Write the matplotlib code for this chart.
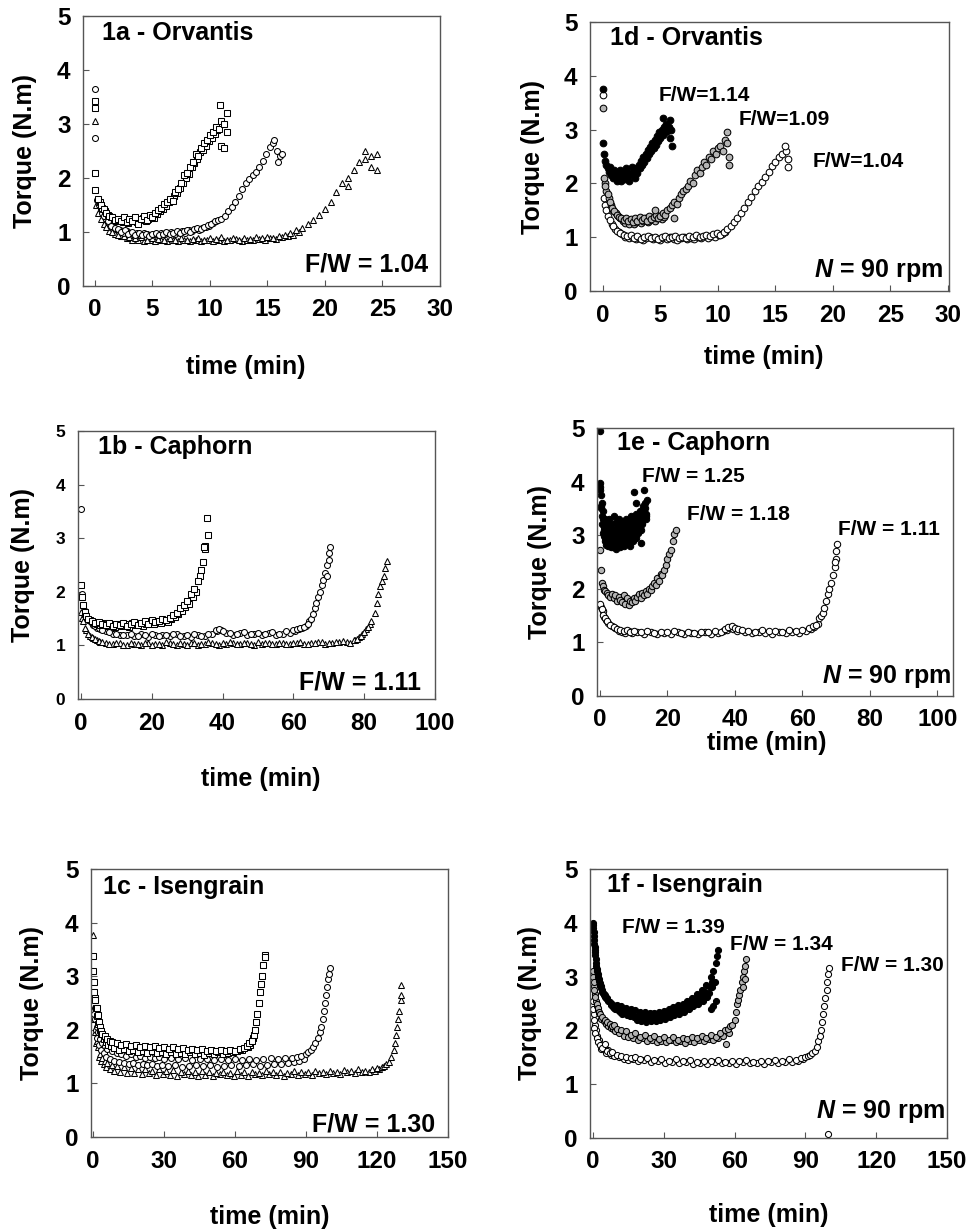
import matplotlib
matplotlib.use('Agg')
import matplotlib.pyplot as plt

plt.rcParams['font.family'] = ['Liberation Sans', 'DejaVu Sans']
plt.rcParams['font.weight'] = 'bold'
plt.rcParams['mathtext.fontset'] = 'custom'
plt.rcParams['mathtext.it'] = 'Liberation Sans:bold:italic'
plt.rcParams['mathtext.rm'] = 'Liberation Sans:bold'

# ---- 1a Orvantis, F/W = 1.04 (squares / circles / triangles, two replicates each shown)
a_sq_t = [0.0, 0.0, 0.0, 0.0, 0.25, 0.5, 0.75, 1.0, 1.25, 1.5, 1.75, 2.0, 2.25, 2.5, 2.75, 3.0, 3.25, 3.5, 3.75, 4.0,
          4.25, 4.5, 4.75, 5.0, 5.25, 5.5, 5.75, 6.0, 6.25, 6.5, 6.75, 7.0, 7.25, 7.5, 7.75, 8.0, 8.25, 8.5, 8.75, 9.0,
          9.25, 9.5, 9.75, 10.0, 10.25, 10.5, 10.75, 11.0, 11.0, 11.25, 11.25, 11.5, 11.5, 10.9]
a_sq_y = [3.42, 3.3, 2.1, 1.78, 1.62, 1.5, 1.42, 1.35, 1.3, 1.28, 1.22, 1.25, 1.2, 1.27, 1.18, 1.24, 1.2, 1.28, 1.15, 1.25,
          1.3, 1.22, 1.32, 1.28, 1.35, 1.4, 1.45, 1.52, 1.55, 1.62, 1.58, 1.75, 1.8, 1.9, 2.05, 2.1, 2.2, 2.3, 2.45, 2.4,
          2.55, 2.65, 2.7, 2.8, 2.85, 2.95, 2.9, 3.05, 2.6, 2.55, 3.0, 2.85, 3.2, 3.35]
a_sq2_t = [0.4, 0.65, 0.9, 1.15, 1.4, 1.65, 1.9, 2.15, 2.4, 2.65, 2.9, 3.15, 3.4, 3.65, 3.9, 4.15, 4.4, 4.65, 4.9, 5.15,
           5.4, 5.65, 5.9, 6.15, 6.4, 6.65, 6.9, 7.15, 7.4, 7.65, 7.9, 8.15, 8.4, 8.65, 8.9, 9.15, 9.4, 9.65, 9.9, 10.15,
           10.4, 10.65]
a_sq2_y = [1.55, 1.45, 1.38, 1.32, 1.27, 1.24, 1.2, 1.23, 1.18, 1.22, 1.16, 1.2, 1.25, 1.19, 1.22, 1.26, 1.2, 1.24, 1.3, 1.26,
           1.33, 1.38, 1.42, 1.48, 1.55, 1.6, 1.66, 1.72, 1.82, 1.9, 2.0, 2.08, 2.2, 2.28, 2.35, 2.48, 2.52, 2.6, 2.68, 2.75,
           2.82, 2.88]
a_ci_t = [0.0, 0.0, 0.2, 0.5, 0.8, 1.1, 1.4, 1.7, 2.0, 2.3, 2.6, 2.9, 3.2, 3.5, 3.8, 4.1, 4.4, 4.7, 5.0, 5.3,
          5.6, 5.9, 6.2, 6.5, 6.8, 7.1, 7.4, 7.7, 8.0, 8.3, 8.6, 8.9, 9.2, 9.5, 9.8, 10.1, 10.4, 10.7, 11.0, 11.3,
          11.6, 11.9, 12.2, 12.5, 12.8, 13.1, 13.4, 13.7, 14.0, 14.3, 14.6, 14.9, 15.2, 15.5, 15.8, 16.1, 16.3, 15.9, 15.6]
a_ci_y = [3.65, 2.75, 1.6, 1.42, 1.3, 1.2, 1.12, 1.08, 1.05, 1.0, 1.03, 0.97, 1.0, 0.95, 0.99, 0.94, 0.97, 0.93, 0.96, 0.98,
          0.94, 0.97, 1.0, 0.96, 0.99, 1.02, 0.98, 1.01, 1.04, 1.0, 1.05, 1.08, 1.06, 1.1, 1.13, 1.15, 1.2, 1.22, 1.25, 1.3,
          1.38, 1.46, 1.55, 1.66, 1.8, 1.9, 1.98, 2.05, 2.12, 2.2, 2.32, 2.45, 2.58, 2.65, 2.5, 2.4, 2.45, 2.3, 2.7]
a_ci2_t = [0.35, 0.65, 0.95, 1.25, 1.55, 1.85, 2.15, 2.45, 2.75, 3.05, 3.35, 3.65, 3.95, 4.25, 4.55, 4.85, 5.15, 5.45, 5.75,
           6.05, 6.35, 6.65, 6.95, 7.25, 7.55, 7.85, 8.15, 8.45, 8.75, 9.05, 9.35, 9.65, 9.95, 10.25, 10.55]
a_ci2_y = [1.5, 1.36, 1.25, 1.16, 1.1, 1.06, 1.03, 0.99, 1.01, 0.98, 0.96, 0.99, 0.95, 0.98, 0.96, 0.94, 0.97, 0.95, 0.99,
           0.96, 0.98, 1.0, 0.97, 1.0, 1.02, 0.99, 1.03, 1.01, 1.05, 1.03, 1.07, 1.09, 1.12, 1.16, 1.2]
a_tr_t = [0.0, 0.1, 0.5, 1.0, 1.5, 2.0, 2.5, 3.0, 3.5, 4.0, 4.5, 5.0, 5.5, 6.0, 6.5, 7.0, 7.5, 8.0, 8.5, 9.0,
          9.5, 10.0, 10.5, 11.0, 11.5, 12.0, 12.5, 13.0, 13.5, 14.0, 14.5, 15.0, 15.5, 16.0, 16.5, 17.0, 17.5, 18.0,
          18.5, 19.0, 19.5, 20.0, 20.5, 21.0, 21.5, 22.0, 22.5, 23.0, 23.5, 24.0, 24.0, 24.5, 24.5, 23.5, 22.0]
a_tr_y = [3.05, 1.5, 1.25, 1.1, 1.0, 0.95, 0.92, 0.9, 0.88, 0.9, 0.86, 0.89, 0.87, 0.85, 0.88, 0.86, 0.89, 0.85, 0.87, 0.88,
          0.86, 0.89, 0.87, 0.9, 0.86, 0.88, 0.85, 0.89, 0.87, 0.9, 0.88, 0.91, 0.89, 0.92, 0.95, 0.98, 1.03, 1.08,
          1.15, 1.22, 1.32, 1.42, 1.55, 1.75, 1.9, 2.0, 2.15, 2.3, 2.35, 2.4, 2.2, 2.45, 2.15, 2.5, 1.85]
a_tr2_t = [0.25, 0.75, 1.25, 1.75, 2.25, 2.75, 3.25, 3.75, 4.25, 4.75, 5.25, 5.75, 6.25, 6.75, 7.25, 7.75, 8.25, 8.75,
           9.25, 9.75, 10.25, 10.75, 11.25, 11.75, 12.25, 12.75, 13.25, 13.75, 14.25, 14.75, 15.25, 15.75, 16.25,
           16.75, 17.25, 17.75]
a_tr2_y = [1.35, 1.15, 1.02, 0.96, 0.92, 0.88, 0.86, 0.85, 0.84, 0.86, 0.83, 0.85, 0.84, 0.86, 0.83, 0.85, 0.84, 0.86,
           0.84, 0.85, 0.83, 0.86, 0.84, 0.85, 0.87, 0.84, 0.86, 0.85, 0.87, 0.86, 0.88, 0.87, 0.9,
           0.92, 0.95, 1.0]

# ---- 1d Orvantis, N = 90 rpm (F/W 1.14 black, 1.09 grey, 1.04 open)
d_blk_t = [0.0, 0.0, 0.1, 0.2, 0.3, 0.4, 0.5, 0.6, 0.7, 0.8, 0.9, 1.0, 1.1, 1.2, 1.3, 1.4, 1.5, 1.6, 1.7, 1.8,
           1.9, 2.0, 2.1, 2.2, 2.3, 2.4, 2.5, 2.6, 2.7, 2.8, 2.9, 3.0, 3.1, 3.2, 3.3, 3.4, 3.5, 3.6, 3.7, 3.8,
           3.9, 4.0, 4.1, 4.2, 4.3, 4.4, 4.5, 4.6, 4.7, 4.8, 4.9, 5.0, 5.1, 5.2, 5.3, 5.4, 5.5, 5.6, 5.7, 5.8,
           5.9, 6.0, 5.2, 5.8]
d_blk_y = [3.75, 2.75, 2.55, 2.42, 2.35, 2.28, 2.22, 2.3, 2.15, 2.2, 2.1, 2.25, 2.12, 2.05, 2.2, 2.1, 2.25, 2.05, 2.15, 2.2,
           2.08, 2.28, 2.12, 2.2, 2.05, 2.18, 2.3, 2.15, 2.25, 2.1, 2.28, 2.2, 2.35, 2.28, 2.42, 2.35, 2.5, 2.4, 2.55, 2.48,
           2.62, 2.55, 2.68, 2.6, 2.75, 2.65, 2.8, 2.72, 2.88, 2.78, 2.95, 2.85, 3.0, 2.9, 3.05, 2.95, 3.1, 2.98, 3.05, 2.85,
           3.0, 2.7, 3.22, 3.18]
d_gry_t = [0.0, 0.1, 0.2, 0.4, 0.6, 0.8, 1.0, 1.2, 1.4, 1.6, 1.8, 2.0, 2.2, 2.4, 2.6, 2.8, 3.0, 3.2, 3.4, 3.6,
           3.8, 4.0, 4.2, 4.4, 4.6, 4.8, 5.0, 5.2, 5.4, 5.6, 5.8, 6.0, 6.2, 6.4, 6.6, 6.8, 7.0, 7.2, 7.4, 7.6,
           7.8, 8.0, 8.2, 8.4, 8.6, 8.8, 9.0, 9.2, 9.4, 9.6, 9.8, 10.0, 10.2, 10.4, 10.6, 10.8, 11.0, 11.0, 10.8, 6.2, 4.5]
d_gry_y = [3.4, 2.1, 1.95, 1.8, 1.65, 1.55, 1.48, 1.42, 1.38, 1.35, 1.32, 1.36, 1.3, 1.34, 1.28, 1.35, 1.3, 1.38, 1.32, 1.36,
           1.3, 1.4, 1.34, 1.38, 1.42, 1.36, 1.4, 1.45, 1.42, 1.5, 1.55, 1.6, 1.65, 1.62, 1.72, 1.8, 1.85, 1.9, 1.95, 2.05,
           2.0, 2.15, 2.25, 2.2, 2.3, 2.4, 2.35, 2.5, 2.45, 2.6, 2.55, 2.65, 2.7, 2.6, 2.8, 2.75, 2.5, 2.35, 2.95, 1.35, 1.5]
d_gry2_t = [0.15, 0.3, 0.5, 0.7, 0.9, 1.1, 1.3, 1.5, 1.7, 1.9, 2.1, 2.3, 2.5, 2.7, 2.9, 3.1, 3.3, 3.5, 3.7, 3.9,
            4.1, 4.3, 4.5, 4.7, 4.9, 5.1, 5.3]
d_gry2_y = [2.0, 1.85, 1.72, 1.6, 1.5, 1.45, 1.4, 1.36, 1.3, 1.27, 1.32, 1.25, 1.3, 1.24, 1.28, 1.33, 1.26, 1.3, 1.35, 1.28,
            1.32, 1.37, 1.3, 1.35, 1.4, 1.33, 1.38]
d_opn_t = [0.0, 0.1, 0.3, 0.6, 0.9, 1.2, 1.5, 1.8, 2.1, 2.4, 2.7, 3.0, 3.3, 3.6, 3.9, 4.2, 4.5, 4.8, 5.1, 5.4,
           5.7, 6.0, 6.3, 6.6, 6.9, 7.2, 7.5, 7.8, 8.1, 8.4, 8.7, 9.0, 9.3, 9.6, 9.9, 10.2, 10.5, 10.8, 11.1, 11.4,
           11.7, 12.0, 12.3, 12.6, 12.9, 13.2, 13.5, 13.8, 14.1, 14.4, 14.7, 15.0, 15.3, 15.6, 15.9, 16.1, 16.1, 15.8]
d_opn_y = [3.65, 1.72, 1.5, 1.32, 1.2, 1.12, 1.08, 1.05, 1.02, 1.04, 0.99, 1.02, 0.97, 1.0, 1.03, 0.98, 1.01, 0.97, 1.0, 1.02,
           0.98, 1.0, 1.03, 0.99, 1.01, 0.98, 1.02, 1.0, 1.04, 1.0, 1.03, 1.05, 1.02, 1.06, 1.08, 1.05, 1.1, 1.15, 1.2, 1.28,
           1.36, 1.45, 1.55, 1.65, 1.75, 1.85, 1.95, 2.02, 2.12, 2.22, 2.32, 2.4, 2.5, 2.55, 2.6, 2.45, 2.3, 2.7]
d_opn2_t = [0.2, 0.45, 0.75, 1.05, 1.35, 1.65, 1.95, 2.25, 2.55, 2.85, 3.15, 3.45, 3.75, 4.05, 4.35, 4.65, 4.95, 5.25,
            5.55, 5.85, 6.15, 6.45, 6.75, 7.05, 7.35, 7.65, 7.95, 8.25, 8.55, 8.85, 9.15, 9.45, 9.75, 10.05, 10.35, 10.65]
d_opn2_y = [1.6, 1.4, 1.25, 1.15, 1.1, 1.06, 1.0, 0.98, 1.01, 0.96, 0.99, 0.95, 0.98, 1.0, 0.96, 0.99, 0.95, 0.98,
            0.96, 1.0, 0.97, 0.95, 0.98, 1.01, 0.97, 0.99, 0.96, 1.0, 0.98, 1.02, 0.99, 1.03, 1.01, 1.04, 1.06, 1.1]

# ---- 1b Caphorn, F/W = 1.11
b_sq_t = [0.0, 0.5, 1.0, 1.5, 2.0, 3.0, 4.0, 5.0, 6.0, 7.0, 8.0, 9.0, 10.0, 11.0, 12.0, 13.0, 14.0, 15.0, 16.0, 17.0,
          18.0, 19.0, 20.0, 21.0, 22.0, 23.0, 24.0, 25.0, 26.0, 27.0, 28.0, 29.0, 30.0, 31.0, 32.0, 33.0, 34.0,
          34.5, 35.0, 35.5, 36.0, 35.0, 34.8]
b_sq_y = [2.13, 1.75, 1.62, 1.55, 1.5, 1.45, 1.42, 1.44, 1.4, 1.38, 1.42, 1.36, 1.4, 1.38, 1.42, 1.37, 1.4, 1.43, 1.38, 1.42,
          1.45, 1.4, 1.48, 1.44, 1.46, 1.5, 1.48, 1.52, 1.56, 1.6, 1.7, 1.75, 1.82, 1.95, 2.05, 2.2, 2.4,
          2.55, 2.85, 3.38, 3.06, 2.8, 2.83]
b_sq2_t = [0.3, 1.2, 2.5, 3.5, 4.5, 5.5, 6.5, 7.5, 8.5, 9.5, 10.5, 11.5, 12.5, 13.5, 14.5, 15.5, 16.5, 17.5, 18.5, 19.5,
           20.5, 21.5, 22.5, 23.5, 24.5, 25.5, 26.5, 27.5, 28.5, 29.5, 30.5, 31.5, 32.5, 33.5]
b_sq2_y = [1.9, 1.58, 1.48, 1.43, 1.4, 1.38, 1.41, 1.36, 1.39, 1.35, 1.4, 1.37, 1.39, 1.35, 1.41, 1.38, 1.42, 1.37, 1.4, 1.43,
           1.39, 1.45, 1.42, 1.47, 1.44, 1.5, 1.53, 1.58, 1.65, 1.72, 1.78, 1.9, 2.0, 2.3]
b_ci_t = [0.0, 0.3, 1.0, 2.0, 3.0, 4.0, 5.0, 6.0, 8.0, 10.0, 12.0, 14.0, 16.0, 18.0, 20.0, 22.0, 24.0, 26.0, 28.0, 30.0,
          32.0, 34.0, 36.0, 38.0, 39.0, 40.0, 42.0, 44.0, 46.0, 48.0, 50.0, 52.0, 54.0, 56.0, 58.0, 60.0, 61.0, 62.0,
          63.0, 64.0, 65.0, 65.5, 66.0, 66.5, 67.0, 67.5, 68.0, 68.5, 69.0, 69.5, 70.0, 70.3, 70.0, 69.5]
b_ci_y = [3.55, 1.95, 1.65, 1.5, 1.42, 1.36, 1.32, 1.28, 1.25, 1.22, 1.2, 1.22, 1.18, 1.2, 1.22, 1.17, 1.2, 1.22, 1.18, 1.2,
          1.21, 1.18, 1.22, 1.28, 1.3, 1.26, 1.24, 1.22, 1.25, 1.22, 1.24, 1.21, 1.25, 1.22, 1.26, 1.28, 1.3, 1.33,
          1.35, 1.4, 1.5, 1.58, 1.7, 1.8, 1.9, 2.0, 2.12, 2.22, 2.35, 2.5, 2.6, 2.84, 2.72, 2.3]
b_ci2_t = [0.6, 1.5, 2.5, 3.5, 4.5, 5.5, 7.0, 9.0, 11.0, 13.0, 15.0, 17.0, 19.0, 21.0, 23.0, 25.0, 27.0, 29.0, 31.0, 33.0,
           35.0, 37.0, 38.5, 39.5, 41.0, 43.0, 45.0, 47.0, 49.0, 51.0, 53.0, 55.0, 57.0, 59.0, 60.5, 61.5, 62.5, 63.5, 64.5]
b_ci2_y = [1.75, 1.55, 1.45, 1.38, 1.33, 1.3, 1.26, 1.22, 1.19, 1.2, 1.17, 1.21, 1.16, 1.19, 1.2, 1.17, 1.21, 1.18, 1.16, 1.2,
           1.17, 1.22, 1.27, 1.29, 1.23, 1.2, 1.23, 1.19, 1.22, 1.2, 1.23, 1.19, 1.22, 1.24, 1.26, 1.3, 1.32, 1.36, 1.45]
b_tr_t = [0.0, 0.5, 1.0, 2.0, 3.0, 4.0, 5.0, 6.0, 8.0, 10.0, 12.0, 14.0, 16.0, 18.0, 20.0, 22.0, 24.0, 26.0, 28.0, 30.0,
          32.0, 34.0, 36.0, 38.0, 40.0, 42.0, 44.0, 46.0, 48.0, 50.0, 52.0, 54.0, 56.0, 58.0, 60.0, 62.0, 64.0, 66.0,
          68.0, 70.0, 72.0, 74.0, 76.0, 77.0, 78.0, 79.0, 80.0, 81.0, 82.0, 83.0, 83.5, 84.0, 84.5, 85.0, 85.5, 86.0, 86.3]
b_tr_y = [1.62, 1.45, 1.32, 1.22, 1.15, 1.12, 1.08, 1.06, 1.03, 1.05, 1.0, 1.04, 1.02, 1.05, 1.0, 1.03, 1.06, 1.02, 1.04, 1.0,
          1.05, 1.03, 1.06, 1.02, 1.04, 1.07, 1.03, 1.05, 1.02, 1.06, 1.04, 1.03, 1.05, 1.02, 1.04, 1.06, 1.03, 1.05,
          1.07, 1.04, 1.06, 1.08, 1.05, 1.1, 1.12, 1.18, 1.25, 1.35, 1.45, 1.6, 1.8, 1.95, 2.1, 2.2, 2.3, 2.45, 2.58]
b_tr2_t = [0.3, 1.5, 2.5, 3.5, 4.5, 5.5, 7.0, 9.0, 11.0, 13.0, 15.0, 17.0, 19.0, 21.0, 23.0, 25.0, 27.0, 29.0, 31.0, 33.0,
           35.0, 37.0, 39.0, 41.0, 43.0, 45.0, 47.0, 49.0, 51.0, 53.0, 55.0, 57.0, 59.0, 61.0, 63.0, 65.0, 67.0, 69.0,
           71.0, 73.0, 75.0, 77.5, 78.5, 79.5, 80.5, 81.5]
b_tr2_y = [1.52, 1.28, 1.18, 1.13, 1.1, 1.07, 1.04, 1.02, 1.05, 1.01, 1.03, 1.0, 1.04, 1.02, 1.0, 1.04, 1.01, 1.03, 1.05, 1.0,
           1.02, 1.04, 1.01, 1.03, 1.05, 1.02, 1.04, 1.01, 1.03, 1.05, 1.02, 1.04, 1.03, 1.05, 1.02, 1.04, 1.06, 1.03,
           1.05, 1.07, 1.06, 1.1, 1.15, 1.22, 1.3, 1.4]

# ---- 1e Caphorn, N = 90 rpm (F/W 1.25 black, 1.18 grey, 1.11 open)
e_blk_t = [0.0, 0.0, 0.0, 0.2, 0.4, 0.6, 0.8, 1.0, 1.2, 1.4, 1.6, 1.8, 2.0, 2.2, 2.4, 2.6, 2.8, 3.0, 3.2, 3.4,
           3.6, 3.8, 4.0, 4.2, 4.4, 4.6, 4.8, 5.0, 5.2, 5.4, 5.6, 5.8, 6.0, 6.2, 6.4, 6.6, 6.8, 7.0, 7.2, 7.4,
           7.6, 7.8, 8.0, 8.2, 8.4, 8.6, 8.8, 9.0, 9.2, 9.4, 9.6, 9.8, 10.0, 10.2, 10.4, 10.6, 10.8, 11.0, 11.2, 11.4,
           11.6, 11.8, 12.0, 12.2, 12.4, 12.6, 12.8, 13.0, 13.2, 13.4, 13.6, 13.8, 10.0, 10.8, 13.0, 12.0]
e_blk_y = [4.95, 3.98, 3.9, 3.75, 3.55, 3.6, 3.3, 3.45, 3.1, 3.3, 2.95, 3.2, 2.85, 3.15, 2.8, 3.1, 3.3, 2.9, 3.05, 2.78,
           3.2, 2.95, 3.35, 2.8, 3.05, 3.25, 2.75, 3.0, 3.15, 2.85, 3.3, 2.95, 2.78, 3.1, 3.2, 2.9, 3.05, 2.8, 3.15, 3.0,
           3.3, 2.85, 3.1, 3.25, 2.95, 3.0, 3.2, 2.8, 3.35, 3.05, 3.15, 2.9, 3.3, 3.1, 3.2, 2.95, 3.4, 3.15, 3.05, 3.3,
           3.2, 3.45, 3.1, 3.35, 3.25, 3.55, 3.3, 3.5, 3.4, 3.6, 3.35, 3.65, 3.8, 3.6, 3.85, 2.85]
e_blk2_t = [0.1, 0.3, 0.5, 0.7, 0.9, 1.1, 1.3, 1.5, 1.7, 1.9, 2.1, 2.3, 2.5, 2.7, 2.9, 3.1, 3.3, 3.5, 3.7, 3.9,
            4.1, 4.3, 4.5, 4.7, 4.9, 5.1, 5.3, 5.5, 5.7, 5.9, 6.1, 6.3, 6.5, 6.7, 6.9, 7.1, 7.3, 7.5, 7.7, 7.9,
            8.1, 8.3, 8.5, 8.7, 8.9, 9.1, 9.3, 9.5, 9.7, 9.9, 10.1, 10.3, 10.5, 10.7, 10.9, 11.1, 11.3, 11.5, 11.7, 11.9,
            12.1, 12.3, 12.5, 12.7, 12.9, 13.1, 13.3, 13.5, 13.7]
e_blk2_y = [3.85, 3.5, 3.35, 3.2, 3.05, 2.98, 3.15, 2.9, 3.05, 2.82, 3.0, 2.9, 3.2, 2.85, 3.0, 3.15, 2.82, 3.1, 2.95, 2.78,
            3.05, 2.9, 2.8, 3.12, 2.95, 2.85, 3.05, 3.22, 2.9, 3.0, 3.1, 2.82, 2.95, 3.05, 3.25, 2.9, 3.0, 2.85, 3.1, 3.2,
            2.95, 3.05, 2.9, 3.15, 3.1, 3.0, 2.95, 3.2, 3.05, 3.25, 3.0, 3.15, 3.1, 3.3, 3.05, 3.2, 3.35, 3.1, 3.25, 3.15,
            3.3, 3.2, 3.4, 3.3, 3.45, 3.35, 3.5, 3.4, 3.3]
e_gry_t = [0.0, 0.2, 0.5, 0.8, 1.2, 1.6, 2.0, 2.5, 3.0, 3.5, 4.0, 4.5, 5.0, 5.5, 6.0, 6.5, 7.0, 7.5, 8.0, 8.5,
           9.0, 9.5, 10.0, 10.5, 11.0, 11.5, 12.0, 12.5, 13.0, 13.5, 14.0, 14.5, 15.0, 15.5, 16.0, 16.5, 17.0, 17.5,
           18.0, 18.5, 19.0, 19.5, 20.0, 20.5, 21.0, 21.5, 22.0, 22.4]
e_gry_y = [2.72, 2.35, 2.1, 2.05, 1.98, 1.95, 1.92, 1.88, 1.85, 1.9, 1.82, 1.88, 1.78, 1.85, 1.8, 1.75, 1.88, 1.72, 1.82, 1.7,
           1.78, 1.75, 1.82, 1.78, 1.85, 1.9, 1.82, 1.92, 1.88, 1.95, 1.9, 2.0, 1.98, 2.05, 2.1, 2.08, 2.2, 2.15,
           2.28, 2.25, 2.35, 2.45, 2.55, 2.65, 2.72, 2.9, 3.02, 3.1]
e_opn_t = [0.0, 0.5, 1.0, 1.5, 2.0, 3.0, 4.0, 5.0, 6.0, 7.0, 8.0, 9.0, 10.0, 12.0, 14.0, 16.0, 18.0, 20.0, 22.0, 24.0,
           26.0, 28.0, 30.0, 32.0, 34.0, 36.0, 37.0, 38.0, 39.0, 40.0, 41.0, 42.0, 44.0, 46.0, 48.0, 50.0, 52.0, 54.0,
           56.0, 58.0, 60.0, 62.0, 63.0, 64.0, 65.0, 65.5, 66.0, 66.5, 67.0, 67.5, 68.0, 68.5, 69.0, 69.5, 70.0, 70.3,
           70.0, 69.5]
e_opn_y = [1.72, 1.62, 1.52, 1.45, 1.4, 1.32, 1.28, 1.25, 1.24, 1.22, 1.24, 1.2, 1.22, 1.19, 1.21, 1.18, 1.2, 1.19, 1.21, 1.18,
           1.2, 1.18, 1.2, 1.19, 1.21, 1.2, 1.25, 1.28, 1.3, 1.27, 1.25, 1.24, 1.22, 1.2, 1.23, 1.21, 1.22, 1.2,
           1.23, 1.21, 1.24, 1.27, 1.3, 1.33, 1.45, 1.5, 1.55, 1.65, 1.78, 1.9, 2.0, 2.1, 2.25, 2.4, 2.55, 2.83,
           2.7, 2.5]
e_opn2_t = [0.25, 0.75, 1.25, 1.75, 2.5, 3.5, 4.5, 5.5, 6.5, 7.5, 8.5, 9.5, 11.0, 13.0, 15.0, 17.0, 19.0, 21.0, 23.0, 25.0,
            27.0, 29.0, 31.0, 33.0, 35.0, 36.5, 37.5, 38.5, 39.5, 40.5, 43.0, 45.0, 47.0, 49.0, 51.0, 53.0, 55.0, 57.0,
            59.0, 61.0, 62.5, 63.5, 64.5]
e_opn2_y = [1.66, 1.58, 1.48, 1.42, 1.36, 1.3, 1.26, 1.22, 1.2, 1.18, 1.21, 1.17, 1.2, 1.16, 1.19, 1.15, 1.18, 1.16, 1.2, 1.16,
            1.18, 1.15, 1.19, 1.16, 1.18, 1.22, 1.24, 1.27, 1.25, 1.22, 1.2, 1.17, 1.2, 1.18, 1.16, 1.19, 1.17, 1.2,
            1.18, 1.22, 1.25, 1.28, 1.35]

# ---- 1c Isengrain, F/W = 1.30
c_sq_t = [0.0, 0.3, 0.6, 1.0, 1.5, 2.0, 2.5, 3.0, 3.5, 4.0, 5.0, 6.0, 7.0, 8.0, 10.0, 12.0, 14.0, 16.0, 18.0, 20.0,
          22.0, 24.0, 26.0, 28.0, 30.0, 32.0, 34.0, 36.0, 38.0, 40.0, 42.0, 44.0, 46.0, 48.0, 50.0, 52.0, 54.0, 56.0,
          58.0, 60.0, 62.0, 64.0, 65.0, 66.0, 67.0, 68.0, 68.5, 69.0, 69.5, 70.0, 70.5, 71.0, 71.5, 72.0, 72.5, 72.8]
c_sq_y = [3.38, 2.9, 2.7, 2.55, 2.4, 2.28, 2.15, 2.05, 1.98, 1.92, 1.88, 1.82, 1.8, 1.78, 1.75, 1.72, 1.74, 1.7, 1.72, 1.68,
          1.7, 1.67, 1.69, 1.66, 1.68, 1.65, 1.67, 1.64, 1.66, 1.63, 1.65, 1.62, 1.64, 1.61, 1.63, 1.6, 1.62, 1.6,
          1.63, 1.61, 1.64, 1.66, 1.7, 1.75, 1.8, 1.9, 2.0, 2.15, 2.3, 2.5, 2.7, 2.85, 3.0, 3.2, 3.4, 3.35]
c_sq2_t = [0.2, 0.8, 1.3, 1.8, 2.3, 2.8, 3.3, 4.5, 5.5, 6.5, 7.5, 9.0, 11.0, 13.0, 15.0, 17.0, 19.0, 21.0, 23.0, 25.0,
           27.0, 29.0, 31.0, 33.0, 35.0, 37.0, 39.0, 41.0, 43.0, 45.0, 47.0, 49.0, 51.0, 53.0, 55.0, 57.0, 59.0, 61.0,
           63.0, 65.5, 66.5, 67.5]
c_sq2_y = [3.1, 2.6, 2.4, 2.25, 2.1, 2.0, 1.92, 1.82, 1.78, 1.72, 1.7, 1.66, 1.62, 1.64, 1.6, 1.63, 1.58, 1.61, 1.57, 1.6,
           1.56, 1.59, 1.55, 1.58, 1.54, 1.57, 1.55, 1.58, 1.54, 1.56, 1.53, 1.57, 1.55, 1.58, 1.54, 1.56, 1.58, 1.6,
           1.62, 1.68, 1.72, 1.85]
c_ci_t = [0.0, 0.3, 0.7, 1.0, 1.5, 2.0, 3.0, 4.0, 5.0, 6.0, 8.0, 10.0, 12.0, 14.0, 16.0, 18.0, 20.0, 22.0, 24.0, 26.0,
          28.0, 30.0, 33.0, 36.0, 39.0, 42.0, 45.0, 48.0, 51.0, 54.0, 57.0, 60.0, 63.0, 66.0, 69.0, 72.0, 75.0, 78.0,
          81.0, 84.0, 86.0, 88.0, 90.0, 91.0, 92.0, 93.0, 94.0, 95.0, 96.0, 96.5, 97.0, 97.5, 98.0, 98.5, 99.0, 99.5,
          100.0, 99.8]
c_ci_y = [3.1, 2.7, 2.4, 2.2, 2.05, 1.95, 1.82, 1.75, 1.7, 1.65, 1.6, 1.57, 1.55, 1.52, 1.54, 1.5, 1.52, 1.48, 1.5, 1.47,
          1.49, 1.46, 1.48, 1.45, 1.47, 1.44, 1.46, 1.45, 1.43, 1.46, 1.44, 1.45, 1.43, 1.46, 1.44, 1.45, 1.47, 1.45,
          1.48, 1.47, 1.5, 1.52, 1.55, 1.58, 1.62, 1.68, 1.75, 1.85, 1.95, 2.05, 2.2, 2.35, 2.5, 2.65, 2.8, 2.95,
          3.15, 3.05]
c_ci2_t = [0.5, 1.2, 1.8, 2.5, 3.5, 4.5, 5.5, 7.0, 9.0, 11.0, 13.0, 15.0, 17.0, 19.0, 21.0, 23.0, 25.0, 27.0, 29.0, 31.5,
           34.5, 37.5, 40.5, 43.5, 46.5, 49.5, 52.5, 55.5, 58.5, 61.5, 64.5, 67.5, 70.5, 73.5, 76.5, 79.5, 82.5, 85.0,
           87.0, 89.0]
c_ci2_y = [2.3, 2.0, 1.85, 1.72, 1.62, 1.56, 1.5, 1.46, 1.42, 1.4, 1.38, 1.36, 1.38, 1.35, 1.37, 1.34, 1.36, 1.33, 1.35, 1.32,
           1.34, 1.31, 1.33, 1.35, 1.32, 1.34, 1.31, 1.33, 1.35, 1.32, 1.34, 1.36, 1.33, 1.35, 1.37, 1.36, 1.38, 1.4,
           1.42, 1.45]
c_tr_t = [0.0, 0.3, 0.6, 1.0, 1.5, 2.0, 3.0, 4.0, 5.0, 6.0, 8.0, 10.0, 13.0, 16.0, 19.0, 22.0, 25.0, 28.0, 31.0, 34.0,
          37.0, 40.0, 43.0, 46.0, 49.0, 52.0, 55.0, 58.0, 61.0, 64.0, 67.0, 70.0, 73.0, 76.0, 79.0, 82.0, 85.0, 88.0,
          91.0, 94.0, 97.0, 100.0, 103.0, 106.0, 109.0, 112.0, 115.0, 118.0, 120.0, 122.0, 123.0, 124.0, 125.0, 126.0,
          127.0, 127.5, 128.0, 128.5, 129.0, 129.5, 130.0, 130.3, 130.0]
c_tr_y = [3.77, 2.6, 2.2, 1.95, 1.8, 1.68, 1.55, 1.48, 1.42, 1.38, 1.35, 1.32, 1.3, 1.28, 1.26, 1.27, 1.24, 1.26, 1.23, 1.25,
          1.22, 1.24, 1.21, 1.23, 1.22, 1.2, 1.22, 1.2, 1.23, 1.21, 1.22, 1.2, 1.23, 1.21, 1.22, 1.2, 1.23, 1.21,
          1.22, 1.24, 1.21, 1.23, 1.22, 1.25, 1.23, 1.26, 1.24, 1.27, 1.28, 1.3, 1.33, 1.36, 1.4, 1.5,
          1.62, 1.75, 1.9, 2.05, 2.2, 2.35, 2.55, 2.84, 2.65]
c_tr2_t = [0.4, 1.2, 2.5, 3.5, 4.5, 5.5, 7.0, 9.0, 11.5, 14.5, 17.5, 20.5, 23.5, 26.5, 29.5, 32.5, 35.5, 38.5, 41.5, 44.5,
           47.5, 50.5, 53.5, 56.5, 59.5, 62.5, 65.5, 68.5, 71.5, 74.5, 77.5, 80.5, 83.5, 86.5, 89.5, 92.5, 95.5, 98.5,
           101.5, 104.5, 107.5, 110.5, 113.5, 116.5, 119.0, 121.0]
c_tr2_y = [2.2, 1.75, 1.5, 1.42, 1.36, 1.3, 1.27, 1.24, 1.22, 1.19, 1.2, 1.17, 1.19, 1.15, 1.18, 1.16, 1.14, 1.17, 1.15, 1.13,
           1.16, 1.14, 1.17, 1.15, 1.13, 1.16, 1.14, 1.17, 1.15, 1.18, 1.16, 1.14, 1.17, 1.15, 1.18, 1.16, 1.19, 1.17,
           1.2, 1.18, 1.21, 1.19, 1.22, 1.21, 1.24, 1.26]

# ---- 1f Isengrain, N = 90 rpm (F/W 1.39 black, 1.34 grey, 1.30 open)
f_blk_t = [0.0, 0.2, 0.4, 0.6, 0.8, 1.0, 1.3, 1.6, 2.0, 2.4, 2.8, 3.2, 3.6, 4.0, 4.5, 5.0, 5.5, 6.0, 7.0, 8.0,
           9.0, 10.0, 11.0, 12.0, 13.0, 14.0, 15.0, 16.0, 17.0, 18.0, 19.0, 20.0, 21.0, 22.0, 23.0, 24.0, 25.0, 26.0,
           27.0, 28.0, 29.0, 30.0, 31.0, 32.0, 33.0, 34.0, 35.0, 36.0, 37.0, 38.0, 39.0, 40.0, 41.0, 42.0, 43.0, 44.0,
           45.0, 46.0, 47.0, 48.0, 49.0, 50.0, 50.5, 51.0, 51.5, 52.0, 52.5, 52.8, 52.0, 51.0, 50.0]
f_blk_y = [4.0, 3.9, 3.75, 3.6, 3.5, 3.4, 3.25, 3.15, 3.05, 2.95, 2.88, 2.82, 2.78, 2.72, 2.68, 2.65, 2.6, 2.58, 2.52, 2.5,
           2.42, 2.48, 2.38, 2.45, 2.35, 2.42, 2.3, 2.4, 2.28, 2.38, 2.25, 2.35, 2.22, 2.34, 2.22, 2.32, 2.2, 2.33,
           2.22, 2.35, 2.24, 2.36, 2.26, 2.4, 2.3, 2.44, 2.32, 2.48, 2.36, 2.5, 2.4, 2.55, 2.45, 2.6, 2.5, 2.68,
           2.55, 2.75, 2.6, 2.85, 2.7, 3.0, 2.8, 3.1, 2.9, 3.25, 3.38, 3.5, 2.55, 2.45, 2.4]
f_blk2_t = [0.1, 0.3, 0.5, 0.7, 0.9, 1.15, 1.45, 1.8, 2.2, 2.6, 3.0, 3.4, 3.8, 4.25, 4.75, 5.25, 5.75, 6.5, 7.5, 8.5,
            9.5, 10.5, 11.5, 12.5, 13.5, 14.5, 15.5, 16.5, 17.5, 18.5, 19.5, 20.5, 21.5, 22.5, 23.5, 24.5, 25.5, 26.5,
            27.5, 28.5, 29.5, 30.5, 31.5, 32.5, 33.5, 34.5, 35.5, 36.5, 37.5, 38.5, 39.5, 40.5, 41.5, 42.5, 43.5, 44.5,
            45.5, 46.5, 47.5, 48.5, 49.5, 50.5]
f_blk2_y = [3.95, 3.82, 3.68, 3.55, 3.45, 3.32, 3.2, 3.1, 3.0, 2.92, 2.85, 2.8, 2.75, 2.7, 2.66, 2.62, 2.6, 2.55, 2.48, 2.44,
            2.4, 2.38, 2.34, 2.3, 2.32, 2.28, 2.26, 2.3, 2.24, 2.2, 2.28, 2.18, 2.26, 2.16, 2.25, 2.17, 2.27, 2.18,
            2.28, 2.2, 2.3, 2.22, 2.33, 2.25, 2.36, 2.28, 2.4, 2.3, 2.43, 2.35, 2.48, 2.4, 2.52, 2.45, 2.58, 2.5,
            2.65, 2.55, 2.72, 2.62, 2.8, 2.9]
f_gry_t = [0.0, 0.3, 0.6, 1.0, 1.5, 2.0, 2.5, 3.0, 4.0, 5.0, 6.0, 7.0, 8.0, 9.0, 10.0, 12.0, 14.0, 16.0, 18.0, 20.0,
           22.0, 24.0, 26.0, 28.0, 30.0, 32.0, 34.0, 36.0, 38.0, 40.0, 42.0, 44.0, 46.0, 48.0, 50.0, 52.0, 54.0, 56.0,
           57.0, 58.0, 59.0, 60.0, 60.5, 61.0, 61.5, 62.0, 62.5, 63.0, 63.5, 64.0, 64.5, 65.0, 64.5, 63.5]
f_gry_y = [3.1, 2.9, 2.75, 2.62, 2.5, 2.42, 2.35, 2.3, 2.25, 2.2, 2.15, 2.12, 2.08, 2.1, 2.02, 2.0, 1.98, 1.92, 1.95, 1.88,
           1.92, 1.86, 1.9, 1.84, 1.88, 1.83, 1.87, 1.82, 1.86, 1.84, 1.88, 1.85, 1.9, 1.86, 1.92, 1.88, 1.95, 2.0,
           2.02, 2.08, 2.1, 2.2, 2.35, 2.5, 2.56, 2.65, 2.75, 2.9, 3.0, 3.1, 3.2, 3.33, 2.95, 2.8]
f_gry2_t = [0.15, 0.45, 0.8, 1.25, 1.75, 2.25, 2.75, 3.5, 4.5, 5.5, 6.5, 7.5, 8.5, 9.5, 11.0, 13.0, 15.0, 17.0, 19.0, 21.0,
            23.0, 25.0, 27.0, 29.0, 31.0, 33.0, 35.0, 37.0, 39.0, 41.0, 43.0, 45.0, 47.0, 49.0, 51.0, 53.0, 55.0, 56.5, 57.5]
f_gry2_y = [3.0, 2.82, 2.68, 2.55, 2.46, 2.38, 2.32, 2.22, 2.18, 2.12, 2.08, 2.05, 2.02, 1.98, 1.95, 1.9, 1.88, 1.86, 1.82, 1.85,
            1.8, 1.83, 1.78, 1.81, 1.79, 1.82, 1.78, 1.8, 1.77, 1.81, 1.79, 1.82, 1.8, 1.84, 1.82, 1.86, 1.9, 1.75, 1.95]
f_opn_t = [0.0, 0.3, 0.6, 1.0, 1.5, 2.0, 3.0, 4.0, 5.0, 6.0, 7.0, 8.0, 10.0, 12.0, 14.0, 16.0, 18.0, 20.0, 23.0, 26.0,
           29.0, 32.0, 35.0, 38.0, 41.0, 44.0, 47.0, 50.0, 53.0, 56.0, 59.0, 62.0, 65.0, 68.0, 71.0, 74.0, 77.0, 80.0,
           83.0, 86.0, 88.0, 90.0, 91.0, 92.0, 93.0, 94.0, 95.0, 95.5, 96.0, 96.5, 97.0, 97.5, 98.0, 98.5, 99.0, 99.3,
           99.6, 100.0, 99.7]
f_opn_y = [2.4, 2.2, 2.05, 1.95, 1.85, 1.78, 1.72, 1.68, 1.75, 1.62, 1.58, 1.6, 1.55, 1.52, 1.5, 1.48, 1.5, 1.46, 1.48, 1.45,
           1.47, 1.44, 1.46, 1.43, 1.45, 1.42, 1.44, 1.43, 1.45, 1.42, 1.44, 1.43, 1.45, 1.42, 1.44, 1.43, 1.45, 1.44,
           1.46, 1.45, 1.48, 1.5, 1.52, 1.55, 1.58, 1.62, 1.7, 1.8, 1.9, 2.0, 2.15, 2.3, 2.45, 2.6, 2.75, 2.9,
           3.05, 3.16, 0.07]
f_opn2_t = [0.15, 0.45, 0.8, 1.25, 1.75, 2.5, 3.5, 4.5, 5.5, 6.5, 7.5, 9.0, 11.0, 13.0, 15.0, 17.0, 19.0, 21.5, 24.5, 27.5,
            30.5, 33.5, 36.5, 39.5, 42.5, 45.5, 48.5, 51.5, 54.5, 57.5, 60.5, 63.5, 66.5, 69.5, 72.5, 75.5, 78.5, 81.5,
            84.5, 87.0, 89.0]
f_opn2_y = [2.55, 2.3, 2.1, 2.0, 1.9, 1.82, 1.65, 1.72, 1.58, 1.64, 1.55, 1.52, 1.5, 1.47, 1.45, 1.46, 1.43, 1.45, 1.41, 1.43,
            1.4, 1.42, 1.39, 1.41, 1.38, 1.4, 1.38, 1.41, 1.39, 1.4, 1.38, 1.41, 1.39, 1.4, 1.38, 1.41, 1.4, 1.42,
            1.41, 1.44, 1.46]

OPEN = dict(mfc='white', mec='black')
GREY = dict(mfc='#b4b4b4', mec='black')
BLACK = dict(mfc='black', mec='black')

W, H = 970, 1229
fig = plt.figure(figsize=(W / 100, H / 100), dpi=100)


def make_ax(l, t, r, b, xmin, xmax, xticks, ytick_size=17.5):
    ax = fig.add_axes([l / W, 1 - b / H, (r - l) / W, (b - t) / H])
    ax.set_xlim(xmin, xmax)
    ax.set_ylim(0, 5)
    ax.set_xticks(xticks)
    ax.set_yticks([0, 1, 2, 3, 4, 5])
    for s in ax.spines.values():
        s.set_color('#555555')
        s.set_linewidth(1.0)
    ax.tick_params(direction='in', length=4, width=0.8, color='#555555')
    ax.tick_params(axis='x', labelsize=17.5, pad=9)
    ax.tick_params(axis='y', labelsize=ytick_size, pad=9)
    return ax


def series(ax, t, y, marker, style, ms=4.3):
    assert len(t) == len(y), (len(t), len(y))
    ax.plot(t, y, linestyle='none', marker=marker, ms=ms, mew=0.75, **style)


def labels(ax, xl, yl):
    ax.set_xlabel('time (min)', fontsize=18, fontweight='bold', va='center')
    ax.xaxis.set_label_coords(*xl)
    ax.set_ylabel('Torque (N.m)', fontsize=18, fontweight='bold', va='center')
    ax.yaxis.set_label_coords(*yl)


# 1a
ax = make_ax(83, 16, 440, 286, -1.04, 30, [0, 5, 10, 15, 20, 25, 30])
series(ax, a_tr2_t, a_tr2_y, '^', OPEN, 4.6)
series(ax, a_tr_t, a_tr_y, '^', OPEN, 4.6)
series(ax, a_ci2_t, a_ci2_y, 'o', OPEN)
series(ax, a_ci_t, a_ci_y, 'o', OPEN)
series(ax, a_sq2_t, a_sq2_y, 's', OPEN, 4.0)
series(ax, a_sq_t, a_sq_y, 's', OPEN, 4.0)
ax.text(0.053, 0.937, '1a - Orvantis', transform=ax.transAxes, fontsize=18, va='center', ha='left')
ax.text(0.966, 0.078, 'F/W = 1.04', transform=ax.transAxes, fontsize=18, va='center', ha='right')
labels(ax, (0.457, -0.30), (-0.162, 0.5))

# 1d
ax = make_ax(590, 22, 949, 291, -1.13, 30.1, [0, 5, 10, 15, 20, 25, 30])
series(ax, d_opn2_t, d_opn2_y, 'o', OPEN, 4.8)
series(ax, d_opn_t, d_opn_y, 'o', OPEN, 4.8)
series(ax, d_gry2_t, d_gry2_y, 'o', GREY, 4.8)
series(ax, d_gry_t, d_gry_y, 'o', GREY, 4.8)
series(ax, d_blk_t, d_blk_y, 'o', BLACK, 4.8)
ax.text(0.056, 0.94, '1d - Orvantis', transform=ax.transAxes, fontsize=18, va='center', ha='left')
ax.text(0.983, 0.078, '$N$ = 90 rpm', transform=ax.transAxes, fontsize=18, va='center', ha='right')
ax.text(4.8, 3.64, 'F/W=1.14', fontsize=15, va='center', ha='left')
ax.text(11.8, 3.18, 'F/W=1.09', fontsize=15, va='center', ha='left')
ax.text(18.2, 2.4, 'F/W=1.04', fontsize=15, va='center', ha='left')
labels(ax, (0.485, -0.245), (-0.159, 0.5))

# 1b
ax = make_ax(78, 431, 435, 699, -0.85, 100, [0, 20, 40, 60, 80, 100], ytick_size=12.5)
series(ax, b_tr2_t, b_tr2_y, '^', OPEN, 4.6)
series(ax, b_tr_t, b_tr_y, '^', OPEN, 4.6)
series(ax, b_ci2_t, b_ci2_y, 'o', OPEN)
series(ax, b_ci_t, b_ci_y, 'o', OPEN)
series(ax, b_sq2_t, b_sq2_y, 's', OPEN, 4.0)
series(ax, b_sq_t, b_sq_y, 's', OPEN, 4.0)
ax.text(0.056, 0.94, '1b - Caphorn', transform=ax.transAxes, fontsize=18, va='center', ha='left')
ax.text(0.961, 0.063, 'F/W = 1.11', transform=ax.transAxes, fontsize=18, va='center', ha='right')
labels(ax, (0.513, -0.30), (-0.154, 0.5))

# 1e
ax = make_ax(597, 428, 953, 696, -0.89, 104.6, [0, 20, 40, 60, 80, 100])
series(ax, e_opn2_t, e_opn2_y, 'o', OPEN, 4.6)
series(ax, e_opn_t, e_opn_y, 'o', OPEN, 4.6)
series(ax, e_gry_t, e_gry_y, 'o', GREY, 4.6)
series(ax, e_blk2_t, e_blk2_y, 'o', BLACK, 4.6)
series(ax, e_blk_t, e_blk_y, 'o', BLACK, 4.6)
ax.text(0.056, 0.944, '1e - Caphorn', transform=ax.transAxes, fontsize=18, va='center', ha='left')
ax.text(0.995, 0.071, '$N$ = 90 rpm', transform=ax.transAxes, fontsize=18, va='center', ha='right')
ax.text(12.4, 4.1, 'F/W = 1.25', fontsize=15, va='center', ha='left')
ax.text(25.8, 3.38, 'F/W = 1.18', fontsize=15, va='center', ha='left')
ax.text(70.5, 3.1, 'F/W = 1.11', fontsize=15, va='center', ha='left')
labels(ax, (0.478, -0.175), (-0.16, 0.5))

# 1c
ax = make_ax(91, 869, 448, 1137, -0.85, 150, [0, 30, 60, 90, 120, 150])
series(ax, c_tr2_t, c_tr2_y, '^', OPEN, 4.6)
series(ax, c_tr_t, c_tr_y, '^', OPEN, 4.6)
series(ax, c_ci2_t, c_ci2_y, 'o', OPEN)
series(ax, c_ci_t, c_ci_y, 'o', OPEN)
series(ax, c_sq2_t, c_sq2_y, 's', OPEN, 4.0)
series(ax, c_sq_t, c_sq_y, 's', OPEN, 4.0)
ax.text(0.034, 0.933, '1c - Isengrain', transform=ax.transAxes, fontsize=18, va='center', ha='left')
ax.text(0.964, 0.045, 'F/W = 1.30', transform=ax.transAxes, fontsize=18, va='center', ha='right')
labels(ax, (0.5, -0.30), (-0.165, 0.5))

# 1f
ax = make_ax(590, 869, 947, 1138, -1.27, 150, [0, 30, 60, 90, 120, 150])
series(ax, f_opn2_t, f_opn2_y, 'o', OPEN, 4.4)
series(ax, f_opn_t, f_opn_y, 'o', OPEN, 4.4)
series(ax, f_gry2_t, f_gry2_y, 'o', GREY, 4.4)
series(ax, f_gry_t, f_gry_y, 'o', GREY, 4.4)
series(ax, f_blk2_t, f_blk2_y, 'o', BLACK, 4.4)
series(ax, f_blk_t, f_blk_y, 'o', BLACK, 4.4)
ax.text(0.048, 0.94, '1f - Isengrain', transform=ax.transAxes, fontsize=18, va='center', ha='left')
ax.text(0.994, 0.097, '$N$ = 90 rpm', transform=ax.transAxes, fontsize=18, va='center', ha='right')
ax.text(12.3, 3.92, 'F/W = 1.39', fontsize=15, va='center', ha='left')
ax.text(57.9, 3.59, 'F/W = 1.34', fontsize=15, va='center', ha='left')
ax.text(105.2, 3.2, 'F/W = 1.30', fontsize=15, va='center', ha='left')
labels(ax, (0.5, -0.286), (-0.168, 0.5))

fig.savefig('out.png', dpi=100)
